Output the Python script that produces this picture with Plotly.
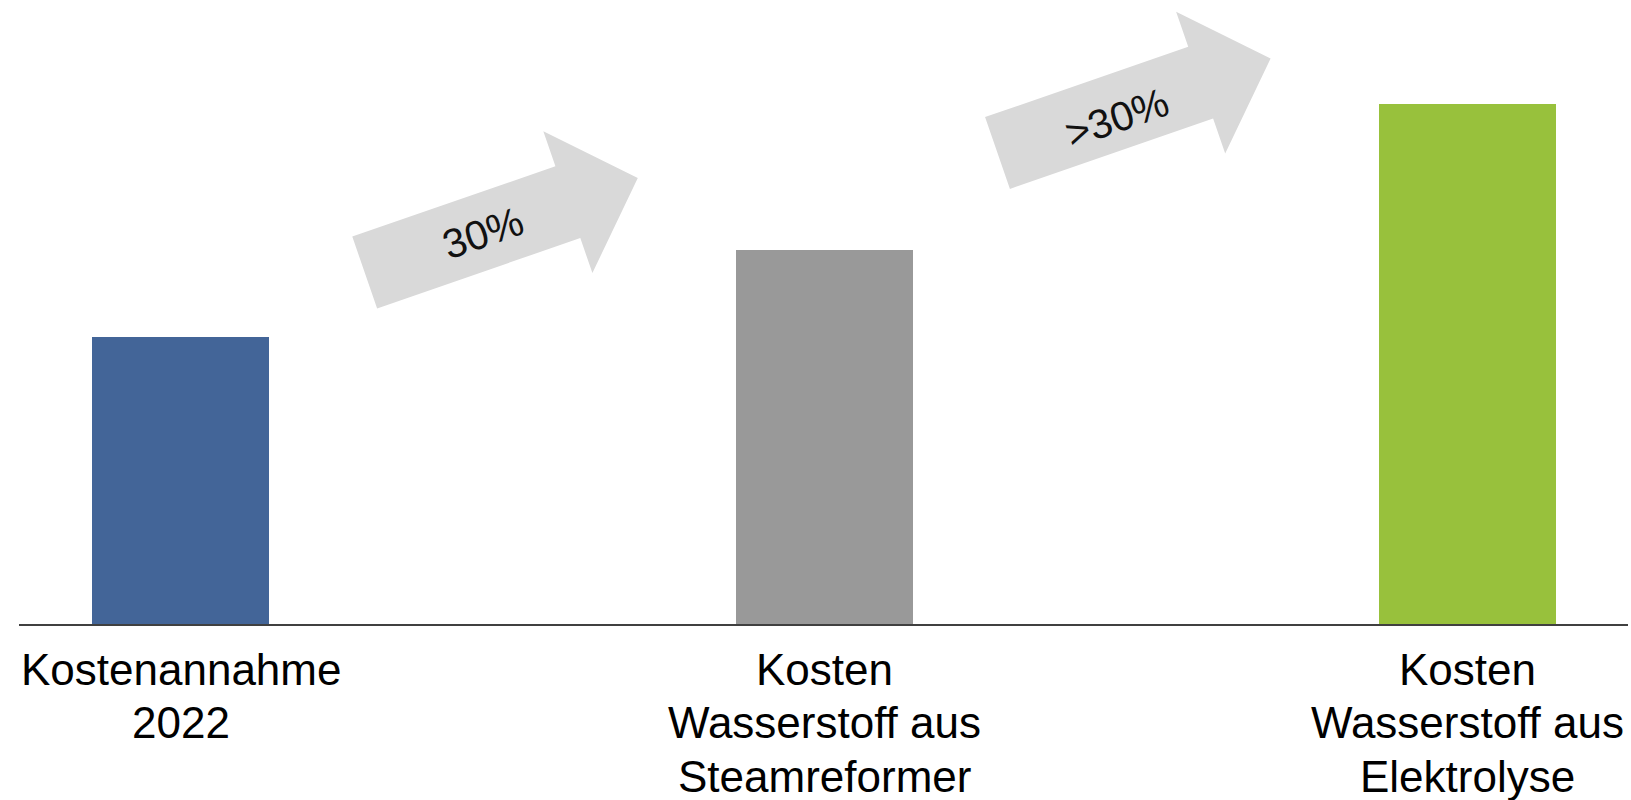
import plotly.graph_objects as go
import math

# ---- data ----
categories = ["Kostenannahme<br>2022",
              "Kosten<br>Wasserstoff aus<br>Steamreformer",
              "Kosten<br>Wasserstoff aus<br>Elektrolyse"]
values = [100, 130.3, 181.2]
bar_colors = ["#436598", "#999999", "#98c13c"]
arrow_labels = ["30%", ">30%"]

# ---- layout geometry (pixels) ----
W, H = 1631, 800
ML, MR, MT, MB = 19, 3, 20, 176
PW, PH = W - ML - MR, H - MT - MB
FONT = "Liberation Sans, Arial, sans-serif"

positions = list(range(len(categories)))

fig = go.Figure()
fig.add_trace(go.Bar(
    x=positions, y=values, width=0.275,
    marker=dict(color=bar_colors, line=dict(width=0)),
    hoverinfo="skip", showlegend=False,
))

def px2paper(px, py):
    return (px - ML) / PW, (H - MB - py) / PH

def arrow_path(cx, cy, angle_deg, length=289, shaft=76, head_len=74, head_half=75):
    a = math.radians(angle_deg)
    ux, uy = math.cos(a), -math.sin(a)
    nx, ny = -uy, ux
    pts_local = [
        (0, -shaft / 2), (length - head_len, -shaft / 2), (length - head_len, -head_half),
        (length, 0), (length - head_len, head_half), (length - head_len, shaft / 2), (0, shaft / 2),
    ]
    pts = []
    for s, t in pts_local:
        px = cx + s * ux + t * nx
        py = cy + s * uy + t * ny
        pts.append(px2paper(px, py))
    return "M " + " L ".join(f"{x:.5f},{y:.5f}" for x, y in pts) + " Z"

arrow_tails = [(364.7, 272.5), (997.5, 153.0)]
arrow_text_pos = [(483, 233), (1117, 118)]
angle = 19.1
for (cx, cy), (tx, ty), lab in zip(arrow_tails, arrow_text_pos, arrow_labels):
    fig.add_shape(type="path", path=arrow_path(cx, cy, angle), xref="paper", yref="paper",
                  fillcolor="#d9d9d9", line=dict(width=0), layer="above")
    ax, ay = px2paper(tx, ty)
    fig.add_annotation(x=ax, y=ay, xref="paper", yref="paper", text=lab, showarrow=False,
                       textangle=-angle, font=dict(size=41, color="#111111", family=FONT),
                       xanchor="center", yanchor="middle")

# category labels: one annotation per line for tighter line spacing (as in reference)
LINE_GAP = 53.5
FIRST_SHIFT = -45
for pos, cat in zip(positions, categories):
    for i, line in enumerate(cat.split("<br>")):
        fig.add_annotation(x=pos, y=0, xref="x", yref="paper", text=line, showarrow=False,
                           xanchor="center", yanchor="middle", borderpad=0,
                           yshift=FIRST_SHIFT - i * LINE_GAP,
                           font=dict(size=44, color="#000000", family=FONT))

xmin = (ML - 180.7) / 643.5
xmax = (W - MR - 180.7) / 643.5
fig.update_layout(
    width=W, height=H,
    margin=dict(l=ML, r=MR, t=MT, b=MB, autoexpand=False),
    paper_bgcolor="white", plot_bgcolor="white",
    font=dict(family=FONT, size=44, color="#000000"),
    xaxis=dict(range=[xmin, xmax], tickvals=positions, showticklabels=False,
               showline=True, linecolor="#404040", linewidth=2, showgrid=False,
               zeroline=False, ticks="", automargin=False),
    yaxis=dict(range=[0, PH / 2.87], visible=False, showgrid=False, zeroline=False,
               automargin=False),
    bargap=0,
)

fig.write_html("out.html", config={"displayModeBar": False, "staticPlot": True},
               post_script="document.body.style.margin='0px';document.body.style.overflow='hidden';")
